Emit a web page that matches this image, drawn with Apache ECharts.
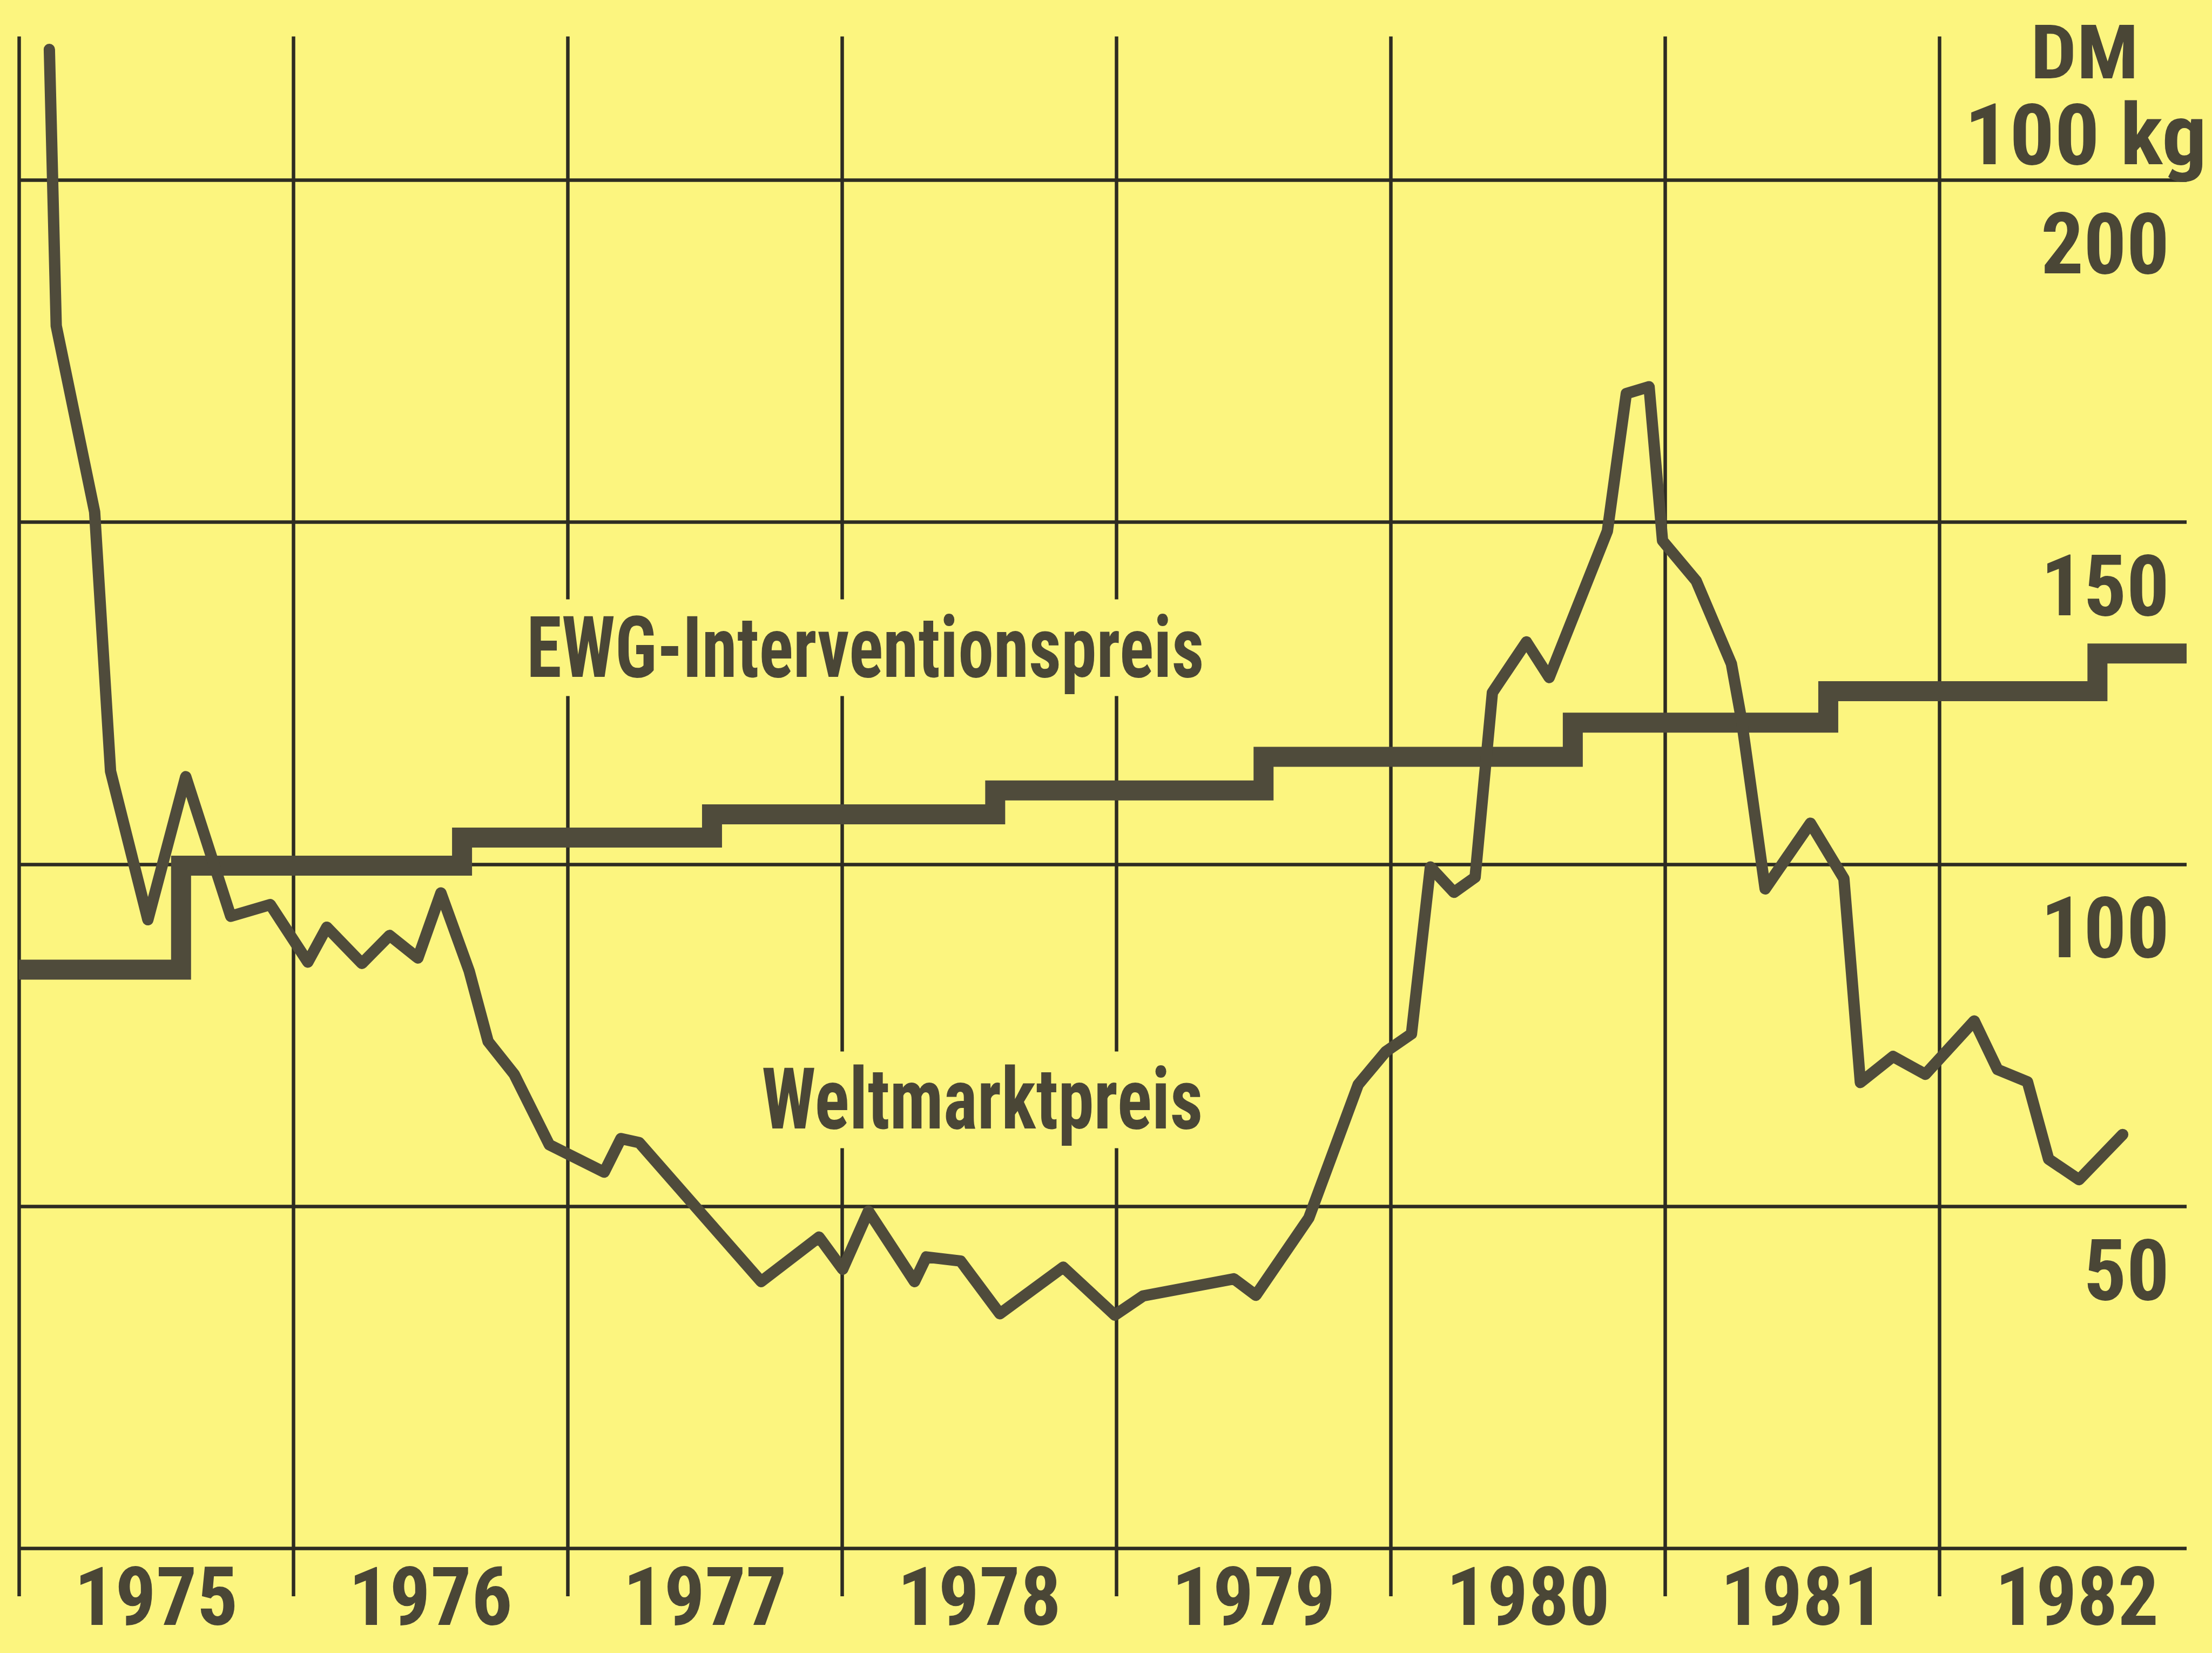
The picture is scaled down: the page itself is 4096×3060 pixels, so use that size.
<!DOCTYPE html>
<html lang="de">
<head>
<meta charset="UTF-8">
<title>Weltmarktpreis und EWG-Interventionspreis</title>
<script src="https://cdn.jsdelivr.net/npm/echarts@6/dist/echarts.min.js"></script>
<style>
  html, body { margin: 0; padding: 0; background: #fcf57f; }
  #chart { width: 4096px; height: 3060px; }
</style>
</head>
<body>
<div id="chart"></div>
<script>
// Weltmarktpreis, DM je 100 kg
const worldDates = [1975.111, 1975.136, 1975.276, 1975.334, 1975.470, 1975.608, 1975.772, 1975.916, 1976.053, 1976.122,
  1976.250, 1976.351, 1976.454, 1976.538, 1976.641, 1976.710, 1976.805, 1976.933, 1977.133, 1977.194,
  1977.261, 1977.705, 1977.916, 1978.002, 1978.096, 1978.264, 1978.307, 1978.432, 1978.575, 1978.806,
  1978.994, 1979.097, 1979.428, 1979.508, 1979.701, 1979.881, 1979.981, 1980.075, 1980.144, 1980.230,
  1980.307, 1980.370, 1980.494, 1980.577, 1980.789, 1980.858, 1980.941, 1980.990, 1981.113, 1981.241,
  1981.278, 1981.364, 1981.529, 1981.651, 1981.711, 1981.830, 1981.948, 1982.126, 1982.211, 1982.320,
  1982.397, 1982.508, 1982.667];
const worldPrices = [219.1, 178.7, 151.5, 113.6, 91.9, 112.8, 92.4, 94.1, 85.7, 90.8,
  85.5, 89.6, 86.3, 95.8, 84.4, 74.1, 69.3, 59.0, 55.0, 59.9,
  59.3, 39.0, 45.5, 40.8, 49.3, 39.0, 42.6, 42.0, 34.3, 41.1,
  34.1, 36.9, 39.4, 37.0, 48.3, 67.8, 72.6, 75.2, 99.6, 95.9,
  98.1, 125.1, 132.5, 127.3, 148.7, 168.8, 169.8, 147.3, 141.4, 129.3,
  121.1, 96.4, 106.0, 97.9, 68.1, 71.9, 69.3, 77.1, 70.0, 68.2,
  56.9, 53.9, 60.5];

// EWG-Interventionspreis: Stufen (Zeitpunkt der Änderung, neuer Preis)
const ewgDates = [1975, 1975.591, 1976.615, 1977.526, 1978.558, 1979.536, 1980.663, 1981.594, 1982.575, 1982.9];
const ewgPrices = [84.6, 99.8, 103.9, 107.3, 110.8, 115.7, 120.7, 125.3, 130.8, 130.8];

const yearLabels = ['1975', '1976', '1977', '1978', '1979', '1980', '1981', '1982'];
const priceTicks = [50, 100, 150, 200];

const BG = '#fcf57f';
const GRID = '#2e2c22';
const LINE = '#4f4b3b';
const TEXT = '#4a4636';
const FS = 157;

// schmalste vorhandene Schrift suchen (wie im Original: fett, schmal)
const ctx = document.createElement('canvas').getContext('2d');
function hasFont(name) {
  const probe = '1975 Weltmarktpreis';
  ctx.font = "bold 100px '" + name + "', monospace";
  const a = ctx.measureText(probe).width;
  ctx.font = "bold 100px '" + name + "', serif";
  const b = ctx.measureText(probe).width;
  return a === b;
}
const FAMILY = ['Noto Sans ExtraCondensed', 'Liberation Sans Narrow', 'Noto Sans Condensed', 'Roboto Condensed',
  'DejaVu Sans Condensed'].find(hasFont) || 'DejaVu Sans Condensed';
const FONT = "'" + FAMILY + "', sans-serif";

// Schrift auf die Breite im Original bringen
function fitScale(text, size, width) {
  ctx.font = 'bold ' + size + 'px ' + FONT;
  return width / ctx.measureText(text).width;
}

function label(text, x, y, size, width, align, bg) {
  return {
    type: 'text',
    x: x,
    y: y,
    z: 100,
    scaleX: fitScale(text, size, width),
    style: {
      text: text,
      fontSize: size,
      fontWeight: 'bold',
      fontFamily: FONT,
      fill: TEXT,
      align: align,
      verticalAlign: 'middle',
      textAlign: align,
      textVerticalAlign: 'middle',
      lineHeight: size,
      backgroundColor: bg ? BG : 'transparent',
      padding: bg ? [8, 12, 14, 12] : 0
    }
  };
}

const chart = echarts.init(document.getElementById('chart'), null, { renderer: 'svg' });

chart.setOption({
  animation: false,
  backgroundColor: BG,
  grid: { left: 35, right: 47, top: 67.5, bottom: 105, containLabel: false, outerBoundsMode: 'none' },
  xAxis: [
    {
      type: 'value',
      min: 1975,
      max: 1982.9,
      interval: 1,
      axisLine: { show: false },
      axisTick: { show: false },
      axisLabel: { show: false },
      splitLine: { show: true, showMaxLine: false, lineStyle: { color: GRID, width: 6.5 } }
    },
    {
      type: 'value',
      position: 'bottom',
      min: 1975,
      max: 1982.9,
      interval: 0.5,
      axisLine: { show: false },
      axisTick: { show: false },
      splitLine: { show: false },
      axisLabel: {
        showMinLabel: false,
        showMaxLabel: false,
        formatter: function (v) {
          const i = Math.floor(v) - 1975;
          return Math.abs(v - Math.floor(v) - 0.5) < 1e-6 ? yearLabels[i] : '';
        },
        verticalAlign: 'middle',
        margin: 2,
        color: TEXT,
        fontSize: 150,
        fontWeight: 'bold',
        fontFamily: FONT
      }
    }
  ],
  yAxis: {
    type: 'value',
    position: 'right',
    min: -7,
    max: 221,
    minInterval: 50,
    maxInterval: 50,
    axisLine: { show: false },
    axisTick: { show: false },
    splitLine: { show: true, showMinLine: false, showMaxLine: false, lineStyle: { color: GRID, width: 6.5 } },
    axisLabel: {
      inside: true,
      showMinLabel: false,
      showMaxLabel: false,
      formatter: function (v) { return priceTicks.indexOf(v) >= 0 ? String(v) : ''; },
      align: 'right',
      verticalAlign: 'top',
      lineHeight: FS,
      padding: [40, 0, 0, 0],
      margin: 32,
      color: TEXT,
      fontSize: FS,
      fontWeight: 'bold',
      fontFamily: FONT
    }
  },
  series: [
    {
      name: 'EWG-Interventionspreis',
      type: 'line',
      step: 'end',
      symbol: 'none',
      data: ewgDates.map((d, i) => [d, ewgPrices[i]]),
      lineStyle: { color: LINE, width: 37, join: 'miter', cap: 'butt' },
      z: 3
    },
    {
      name: 'Weltmarktpreis',
      type: 'line',
      symbol: 'none',
      data: worldDates.map((d, i) => [d, worldPrices[i]]),
      lineStyle: { color: LINE, width: 21, join: 'round', cap: 'round' },
      z: 4
    }
  ],
  graphic: [
    label('DM', 3860, 97, 140, 200, 'center', false),
    label('100 kg', 3862, 250, FS, 449, 'center', false),
    label('EWG-Interventionspreis', 965, 1199, FS, 1255, 'left', true),
    label('Weltmarktpreis', 1400, 2036, FS, 817, 'left', true)
  ]
});
</script>
</body>
</html>
